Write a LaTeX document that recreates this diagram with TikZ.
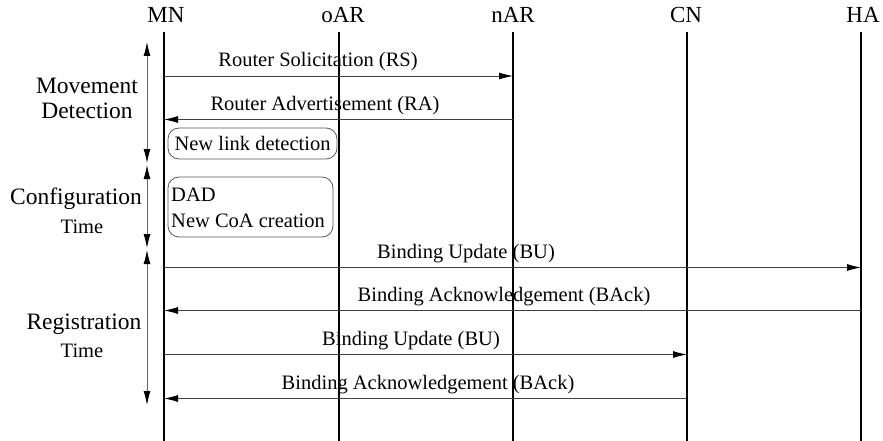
\documentclass[tikz,border=0pt]{standalone}
\usepackage{fontspec}
\setmainfont{Liberation Serif}
\usetikzlibrary{arrows.meta}
\begin{document}
\begin{tikzpicture}[x=1pt,y=-1pt,
  hdr/.style={font=\fontsize{23}{25}\selectfont, anchor=base, inner sep=0pt},
  lbl/.style={font=\fontsize{20.5}{23}\selectfont, anchor=base, inner sep=0pt},
  big/.style={font=\fontsize{23.5}{26}\selectfont, anchor=base, inner sep=0pt},
  life/.style={line width=2.6pt, black},
  msg/.style={line width=0.9pt, black!75, -{Latex[length=14pt,width=7pt,black]}},
  span/.style={line width=0.9pt, black!60, {Latex[length=14pt,width=7pt,black]}-{Latex[length=14pt,width=7pt,black]}},
  boxed/.style={draw=black!65, line width=0.8pt, rounded corners=11pt, inner sep=0pt}
]
\useasboundingbox (0,0) rectangle (883,441);
% headers
\node[hdr] (hMN) at (166,23) {MN};
\node[hdr] (hoAR) at (343,23) {oAR};
\node[hdr] (hnAR) at (513,23) {nAR};
\node[hdr] (hCN) at (686,23) {CN};
\node[hdr] (hHA) at (863,23) {HA};
% lifelines
\coordinate (tMN) at (164,32); \coordinate (bMN) at (164,441);
\coordinate (toAR) at (339,32); \coordinate (boAR) at (339,441);
\coordinate (tnAR) at (513,32); \coordinate (bnAR) at (513,441);
\coordinate (tCN) at (687,32); \coordinate (bCN) at (687,441);
\coordinate (tHA) at (861,32); \coordinate (bHA) at (861,441);
\draw[life] (tMN) -- (bMN);
\draw[life] (toAR) -- (boAR);
\draw[life] (tnAR) -- (bnAR);
\draw[life] (tCN) -- (bCN);
\draw[life] (tHA) -- (bHA);
% message endpoints
\coordinate (m1) at (164,76);    \coordinate (n1) at (513,76);
\coordinate (m2) at (164,119.5); \coordinate (n2) at (513,119.5);
\coordinate (m3) at (164,267.5); \coordinate (h3) at (861,267.5);
\coordinate (m4) at (164,310.5); \coordinate (h4) at (861,310.5);
\coordinate (m5) at (164,354.5); \coordinate (c5) at (687,354.5);
\coordinate (m6) at (164,398.5); \coordinate (c6) at (687,398.5);
\draw[msg] (m1) -- (n1);
\draw[msg] (n2) -- (m2);
\draw[msg] (m3) -- (h3);
\draw[msg] (h4) -- (m4);
\draw[msg] (m5) -- (c5);
\draw[msg] (c6) -- (m6);
% message labels
\node[lbl] (l1) at (318,67) {Router Solicitation (RS)};
\node[lbl] (l2) at (325,110.5) {Router Advertisement (RA)};
\node[lbl] (l3) at (466,258.5) {Binding Update (BU)};
\node[lbl] (l4) at (504,301.5) {Binding Acknowledgement (BAck)};
\node[lbl] (l5) at (411,345.5) {Binding Update (BU)};
\node[lbl] (l6) at (428,389.5) {Binding Acknowledgement (BAck)};
% boxes
\draw[boxed] (168,128) rectangle (337,159);
\node[lbl] (nld) at (252.5,150) {New link detection};
\draw[boxed] (168,177) rectangle (333,237);
\node[lbl, anchor=base west] (dad) at (171,201) {DAD};
\node[lbl, anchor=base west] (coa) at (171,227) {New CoA creation};
% phase spans
\coordinate (s1a) at (147,42);  \coordinate (s1b) at (147,163);
\coordinate (s2a) at (147,165); \coordinate (s2b) at (147,248);
\coordinate (s3a) at (147,250); \coordinate (s3b) at (147,405);
\draw[span] (s1a) -- (s1b);
\draw[span] (s2a) -- (s2b);
\draw[span] (s3a) -- (s3b);
\node[big] (mv) at (87,94) {Movement};
\node[big] (dt) at (87,119) {Detection};
\node[big] (cf) at (76,204) {Configuration};
\node[lbl] (ct) at (82,233) {Time};
\node[big] (rg) at (84,329) {Registration};
\node[lbl] (rt) at (82,357) {Time};
\end{tikzpicture}
\end{document}
